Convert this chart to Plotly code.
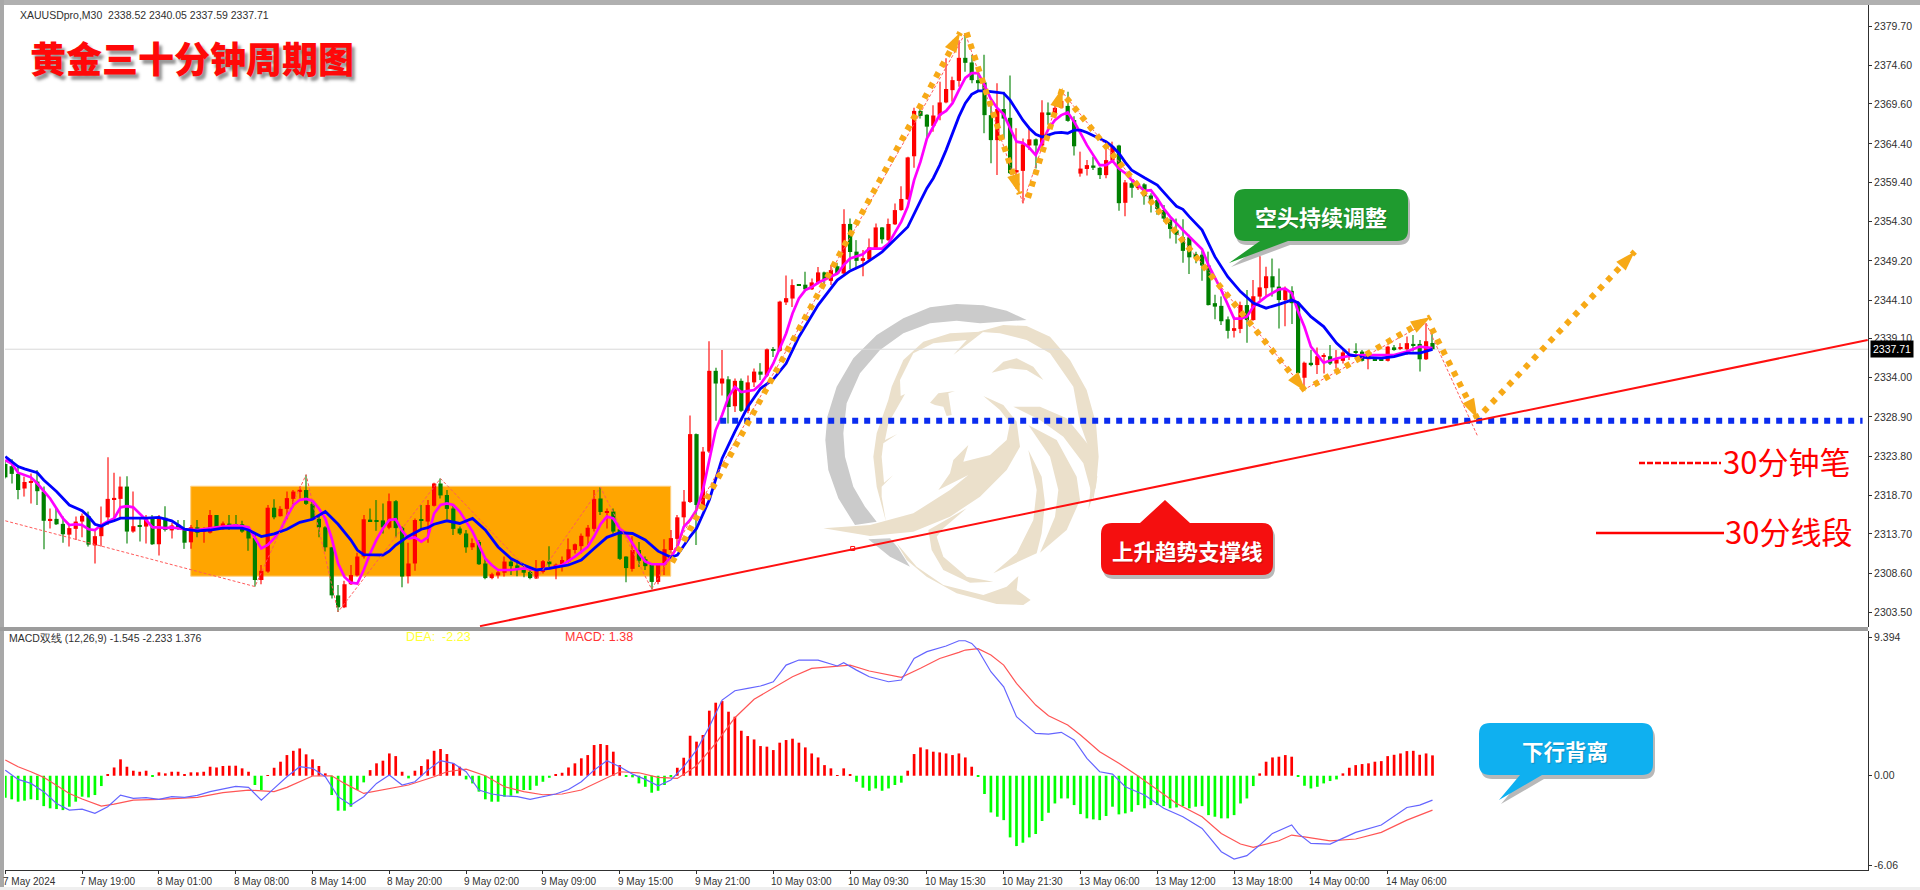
import math
import plotly.graph_objects as go

# ---------- candles ----------
OPEN = [2322.8,2322.5,2321.5,2319.6,2320.4,2320.5,2319.2,2315.4,2315.65,2315,
2313.6,2314.35,2315.3,2316,2312.2,2313.4,2315.85,2318.2,2318.25,2319.85,
2314,2314.65,2314.65,2315.7,2312.35,2315.8,2314.15,2314.9,2314.4,2312.6,
2314.55,2314,2313.85,2316.15,2314.3,2314.95,2314.9,2314.95,2314.1,2313.15,
2307.7,2308.8,2317.1,2316,2316.95,2318.25,2319.25,2319.4,2317.6,2315.65,
2314.55,2311.95,2305.7,2304.15,2307.15,2308.3,2310.75,2315.55,2315.45,2315.45,
2314.5,2317.95,2314.5,2308.2,2309.85,2315.6,2315.3,2317.35,2320.25,2318.75,
2317,2314.4,2313.75,2311.95,2312.65,2309.85,2307.95,2308.3,2308.65,2310.1,
2309.6,2309.15,2308.75,2307.9,2308.75,2310.1,2309.35,2309.65,2310.1,2311.6,
2312.1,2313.35,2314.35,2318.3,2316.45,2316.6,2314.3,2310.75,2309.15,2311.6,
2310.4,2309.7,2307.45,2309.7,2311.6,2313.05,2315.85,2317.84,2326.67,2317.3,
2324.4,2334.9,2333.25,2333.8,2330.3,2333.6,2329.7,2333.4,2334.8,2334.3,
2337.6,2337.5,2343.8,2344.3,2346.1,2346.1,2345.5,2346.35,2347.7,2346.6,
2348.5,2347.55,2354,2350.4,2349.2,2349.4,2350.75,2353.55,2351.9,2353.95,
2355.8,2357.2,2362.8,2368.7,2368.2,2366.75,2368.1,2369.8,2371.4,2372.6,
2375.6,2375,2372.7,2372.4,2368.15,2364.9,2368.95,2367.8,2360.7,2360.9,
2364.2,2365,2364.2,2368.5,2368.4,2369.1,2369.35,2367.5,2360.55,2361.15,
2361.6,2361.3,2360.35,2362.25,2364.2,2356.75,2359.3,2358.65,2359.15,2357.7,
2357.1,2355.8,2354.5,2353.2,2352.26,2352.26,2350.1,2350,2348.6,2343.7,
2343.35,2341.6,2340.1,2340.35,2343.45,2341.5,2344.55,2345.65,2347.2,2345.85,
2344.1,2345.3,2343.75,2334,2335.95,2335.65,2336.75,2336.8,2335.85,2336.2,
2336.85,2337.45,2337.4,2336.4,2336.4,2336.4,2336.2,2337.95,2337.8,2337.7,
2338.4,2338.4,2336.4,2338.52]
HIGH = [2323.3,2323.4,2322.65,2321.15,2321.55,2322,2319.85,2317,2317,2315.95,
2314.85,2315.95,2316.35,2316.6,2314.2,2317.25,2323.65,2321.65,2321.15,2321.2,
2319.2,2315.7,2316.15,2316.15,2316.15,2317.3,2315.15,2315.5,2315.5,2314.85,
2315.5,2314.55,2316.8,2316.15,2315.3,2316.15,2316.15,2315.4,2314.4,2313.55,
2309.65,2317.45,2318.2,2317.3,2319.2,2319.4,2319.85,2321.4,2317.9,2316.15,
2314.7,2312,2307.05,2307.6,2309.65,2311.25,2316.15,2317,2318.1,2317.65,
2318.95,2318.1,2314.65,2312.55,2315.7,2317.45,2318.1,2320.35,2320.9,2319.4,
2317.45,2314.65,2314.2,2313.1,2312.9,2310.75,2308.65,2309,2310.75,2310.3,
2310.3,2309.65,2309,2310.3,2310.3,2312.1,2309.85,2310.75,2313.1,2312.45,
2313.75,2314.85,2319.4,2319.75,2317,2317,2314.4,2310.8,2313.4,2312.65,
2310.75,2309.85,2309.85,2313,2314.2,2316.15,2319.4,2329.1,2326.75,2325,
2338.76,2335.3,2337.6,2334.2,2333.9,2333.9,2334.3,2335.2,2335.9,2337.8,
2338,2344,2347.3,2346.8,2346.1,2347.8,2346.9,2348.4,2347.8,2348.65,
2348.95,2355.9,2354.7,2351.9,2350.6,2352.1,2354.05,2353.6,2354.7,2356.65,
2358.9,2362.75,2369.1,2369.5,2368.25,2369.45,2372.5,2375.55,2373.15,2377.9,
2378.8,2376,2374.2,2376,2369.45,2372.3,2371.2,2373.3,2366.45,2365.1,
2366.45,2365.1,2370.1,2369.8,2370.1,2371.4,2371.2,2368,2363.4,2362.3,
2362.75,2361.45,2364.7,2364.7,2364.3,2359.7,2359.85,2359.5,2359.3,2358,
2357.3,2356.45,2354.7,2354.7,2354.6,2352.6,2350.4,2350.5,2350.4,2344.8,
2344.55,2341.95,2341.95,2343.9,2345.4,2346.7,2349.8,2348.45,2349.5,2348.2,
2345.85,2345.9,2343.9,2336.1,2337.6,2337.95,2337.2,2338.25,2337.6,2337.8,
2337.8,2338.5,2337.6,2337.4,2336.4,2336.4,2338.15,2338.25,2338.5,2339.35,
2339.55,2338.9,2341.1,2340.05]
LOW = [2320.9,2320.25,2318.2,2318.55,2317.65,2317.45,2311.7,2314.4,2314.85,2312.55,
2312.05,2312.9,2313.25,2312.05,2309.85,2312.05,2314.85,2315.5,2315.7,2312.45,
2313.85,2312.7,2312.45,2312.25,2310.9,2314,2313.1,2314.2,2311.75,2311.75,
2313.25,2312.55,2313.75,2314.2,2314.2,2314.2,2314.4,2313.85,2311.5,2306.85,
2307.15,2308.65,2315.6,2315.95,2315.6,2317.15,2318.3,2317.45,2315.5,2313.25,
2311.4,2305.3,2303.55,2304.05,2307.05,2308.15,2310.5,2315.3,2314.1,2313.75,
2314.3,2313.25,2306.75,2307.25,2308.9,2314.2,2312.55,2317.25,2318.3,2315.6,
2313.55,2313.55,2311.25,2311.6,2309.65,2307.8,2307.8,2307.9,2308.15,2308.35,
2308.2,2308.05,2307.8,2307.85,2308.55,2309.4,2307.8,2308.8,2309.85,2311.15,
2311.15,2312.25,2314,2316.15,2314.4,2313.75,2310.3,2307.4,2308.8,2309.4,
2309,2306.5,2307.15,2308.35,2311.15,2311.6,2314.65,2317.7,2312.25,2317.2,
2324.2,2328.4,2331.7,2328.05,2329.55,2329.55,2329.4,2332.8,2333.7,2334.1,
2336.7,2337.4,2343.45,2343.2,2346,2345.3,2345.4,2346.15,2345.8,2346.05,
2347.45,2347.45,2348.1,2348.2,2347.2,2349.3,2350.6,2351.45,2351.8,2353.85,
2355.7,2357.1,2361.3,2367.7,2364.9,2366,2367.5,2369.7,2369.9,2371.85,
2373.8,2372.3,2371.4,2365.8,2361.9,2360.35,2365.1,2360.5,2358.6,2356.7,
2363.6,2361.2,2364.05,2366.9,2367.75,2369,2367.3,2362.9,2360.15,2360.3,
2361,2359.85,2359.95,2362.1,2355.7,2355,2357.4,2358.4,2356.5,2355.5,
2355.2,2354.3,2352.1,2351.45,2348.97,2347.5,2348.9,2346.6,2343.4,2341.6,
2340.85,2339.1,2339.25,2339.8,2338.55,2341.4,2344.1,2344.55,2344.55,2340.4,
2340.7,2341,2334.35,2332.5,2335.5,2334.5,2334.55,2335.65,2335.2,2335.85,
2336.3,2336.75,2336.1,2335.1,2336.3,2336.3,2336.1,2337.5,2337.6,2336.95,
2337.4,2334.8,2336.3,2337.59]
CLOSE = [2321.05,2321.5,2319.4,2320.45,2320.55,2319.25,2315.4,2315.65,2314.95,2313.65,
2314.45,2315.3,2316.05,2312.3,2313.4,2314.75,2318.25,2318.35,2319.85,2314,
2314.7,2314.6,2315.6,2312.35,2315.8,2314.2,2314.8,2314.35,2312.55,2314.55,
2313.85,2314.2,2316.15,2314.4,2315.05,2314.85,2314.8,2314,2313.1,2307.7,
2308.9,2317.1,2315.85,2316.95,2318.35,2319.2,2319.4,2317.6,2315.65,2314.55,
2311.95,2305.7,2304.15,2307.15,2308.35,2310.75,2315.6,2315.35,2315.3,2314.55,
2317.95,2314.45,2308.15,2309.85,2315.5,2315.4,2317.45,2320.25,2318.7,2316.95,
2314.35,2313.75,2311.95,2312.5,2309.75,2307.95,2308.45,2308.7,2310.1,2309.5,
2309.05,2308.65,2307.95,2309.05,2310.15,2309.75,2309.7,2310.3,2311.7,2312.35,
2313.45,2314.5,2318.25,2316.55,2316.65,2314,2310.45,2309.25,2311.6,2310.2,
2309.5,2307.45,2309.7,2311.7,2313.15,2315.85,2317.9,2326.67,2317.45,2324.4,
2334.9,2333.25,2333.9,2330.2,2333.6,2329.7,2333.4,2334.8,2334.4,2337.7,
2337.55,2343.9,2344.35,2346.05,2346.0,2345.5,2346.4,2347.7,2346.7,2348,
2347.55,2354,2350.35,2349.2,2349.55,2350.95,2353.55,2352,2354,2355.8,
2357.25,2362.65,2368.7,2368.05,2366.65,2368.1,2369.8,2371.55,2372.7,2375.6,
2374.95,2372.7,2372.3,2368.15,2364.9,2368.95,2367.7,2360.6,2361,2364.35,
2365,2364.2,2368.5,2368.25,2369.1,2370,2367.4,2364.1,2361.2,2361.65,
2361.3,2360.35,2362.3,2364.05,2356.7,2359.4,2358.7,2359.2,2357.6,2356.7,
2355.95,2354.7,2353.35,2352.6,2350.5,2349.66,2349.6,2348.6,2343.45,2343.25,
2341.35,2340.1,2340.45,2343.45,2341.5,2344.6,2345.75,2347.2,2345.75,2344.1,
2345.5,2343.7,2334.6,2335.95,2335.65,2336.8,2336.9,2335.85,2336.4,2337.3,
2336.95,2337.3,2336.2,2337.2,2336.3,2336.3,2338.05,2337.6,2337.95,2338.5,
2338.2,2336.4,2338.75,2337.71]

# ---------- moving averages ----------
SLOW_BARS = [0,1,2,3,5,6,8,10,12,13,14,15,16,17,18,20,22,24,26,28,30,32,34,37,38,40,42,44,46,48,50,52,54,55,
56,59,60,61,63,65,66,67,69,71,73,75,77,79,81,83,85,88,90,92,94,96,98,100,102,104,105,107,108,110,
112,114,116,118,120,122,124,127,130,132,134,137,141,143,144,145,146,147,148,149,150,151,152,153,155,156,157,158,159,160,161,162,163,164,165,166,167,168,169,171,172,173,174,175,176,178,180,182,183,
184,185,187,188,189,191,193,195,197,199,201,202,204,206,208,210,212,215,217,219,221,223]
SLOW = [2323.75,2323.1,2322.45,2322.15,2321.65,2320.7,2319.2,2317.45,2316.7,2315.95,2314.95,2314.7,2315.15,2315.4,2315.75,2315.75,2315.75,2315.85,2315.4,2314.3,2314.1,2314.2,2314.45,2314.45,2314.2,2313.35,2313.7,2314.3,2315.2,2315.6,2316.6,2314.95,2312.9,2311.6,
2311,2310.95,2311.45,2312.25,2313.4,2314.3,2314.5,2314.95,2315.4,2315.05,2315.7,2314.2,2312,2310.5,2309.65,2309,2309.2,2309.65,2310.3,2311.8,2313.25,2313.85,2313.75,2312.9,2311.45,2310.65,2310.95,2313.35,2314.4,2318.1,
2323.5,2327,2330.2,2332.6,2333.8,2335.85,2339.3,2343.45,2346.7,2347.9,2348.65,2350.35,2353.6,2357,2358.65,2359.95,2361.65,2363.6,2365.8,2367.95,2369.7,2370.85,2371.3,2371.3,2371.1,2371,2370.1,2368.8,2367.5,2366.45,2365.65,2365.3,2365.55,2365.85,2365.9,2365.8,2366.2,2366.2,2365.9,2365.15,2364.7,2364.05,2363.2,2362,2361,2360,2359.05,2357.2,2356.3,
2355.9,2354.95,2353.2,2351.55,2349.75,2347.15,2345.2,2343.7,2343.05,2343.55,2344.1,2343.75,2341.95,2340.65,2338.5,2337,2336.65,2336.55,2336.75,2337.2,2337.2,2337.7]
FAST_BARS = [0,1,2,3,4,5,6,7,8,9,10,11,12,13,14,15,16,17,18,19,20,21,22,23,24,25,26,28,30,33,34,36,38,39,40,41,42,43,44,45,46,47,48,49,50,51,52,53,54,55,
56,57,58,59,60,61,62,63,64,65,66,67,68,69,70,71,72,73,74,75,76,77,79,81,83,85,87,89,91,92,93,94,95,96,97,98,99,100,101,103,104,105,106,107,108,109,
110,111,112,113,114,115,117,118,119,120,121,122,123,124,125,126,127,130,131,132,134,135,137,138,140,141,142,
143,144,145,146,147,148,149,150,151,152,153,154,155,156,157,158,159,160,161,162,163,164,165,166,167,168,169,170,171,172,173,174,175,176,177,178,179,180,181,182,
184,187,188,190,192,193,194,195,197,199,200,201,202,203,204,206,208,210,212,214,217,219,221,223]
FAST = [2323.3,2322.85,2321.65,2321.3,2321.05,2320.25,2319.2,2318.3,2317,2315.7,2314.85,2314.95,2314.85,2314.3,2314.2,2314.85,2315.3,2315.7,2317.15,2317.3,2317.15,2316.35,2315.5,2314.55,2314.55,2314.45,2314.55,2314.3,2314.2,2314.55,2314.65,2314.8,2314.55,2313.25,2311.8,2312.25,2313.1,2314.2,2315.95,2317.45,2318.1,2318.25,2318,2317,2315.7,2313.1,2309.85,2308.1,2307.35,2307.25,
2309,2311.15,2312.95,2314.4,2315.5,2315.6,2314.1,2313.1,2313.25,2312.7,2313.25,2316.35,2317.45,2317.65,2317.45,2316.6,2315.3,2314,2312.25,2310.5,2309.65,2309,2309,2309.2,2309,2309.2,2309.65,2310.75,2312,2313.35,2314.95,2315.95,2315.7,2314.4,2313.75,2312.45,2311.15,2310.1,2309.75,2309.75,2310.7,2312,2314.6,2315.5,2316.8,2319.4,
2323.5,2327.2,2329.15,2331.5,2332.8,2332.15,2332.4,2333.15,2334.35,2335.85,2337.8,2339.75,2342.35,2344.3,2345.4,2345.8,2346.35,2347.55,2348.65,2349.5,2350.05,2350.8,2350.8,2351.45,2354.3,2356.25,2359.7,
2362.1,2365.1,2366.65,2368.2,2368.7,2369.7,2371.4,2373,2373.6,2373.6,2372.05,2370.25,2369.05,2368.25,2366.45,2364.7,2364.55,2363.9,2362.95,2364.7,2366.35,2367.5,2368.15,2368.5,2367.3,2365.8,2364.25,2362.95,2361.65,2361.65,2362.2,2361.2,2360.6,2359.7,2359.05,2358.3,2358.4,2357.3,2356,2354.95,
2353.2,2350.7,2348.65,2345.4,2341.7,2341.7,2341.95,2343.25,2344.55,2345.5,2345.6,2345,2342.6,2340.6,2338.05,2335.95,2336.5,2336.85,2336.95,2336.95,2336.95,2337.4,2338.05,2337.85]

# ---------- MACD panel ----------
HIST = [-1.49,-1.60,-1.76,-1.69,-1.60,-1.65,-2.06,-2.21,-2.26,-2.33,-2.10,-1.76,-1.42,-1.47,-1.31,-0.70,0.05,0.56,1.11,0.61,
0.34,0.27,0.34,-0.07,0.23,0.16,0.27,0.27,0.07,0.23,0.23,0.27,0.61,0.56,0.66,0.68,0.68,0.50,0.27,-0.63,
-0.97,0.02,0.54,0.95,1.40,1.69,1.85,1.45,1.11,0.66,0.16,-1.31,-2.37,-2.37,-2.10,-0.97,-0.45,0.38,0.84,1.02,
1.51,1.33,0.27,-0.18,0.34,0.66,1.11,1.69,1.81,1.47,0.84,0.61,-0.25,-0.52,-1.08,-1.60,-1.76,-1.76,-1.42,-1.36,
-1.20,-0.97,-0.97,-0.68,-0.41,-0.14,0.11,0.20,0.56,0.84,1.18,1.40,2.08,2.15,2.08,1.63,0.72,-0.07,-0.11,-0.52,
-0.75,-1.15,-1.02,-0.63,-0.07,0.54,1.22,2.71,2.31,2.76,4.41,4.95,5.06,4.34,4.00,3.05,2.69,2.46,2.01,1.97,
1.74,2.24,2.42,2.51,2.24,1.92,1.51,1.24,0.72,0.50,0.02,0.50,0.11,-0.41,-0.81,-1.02,-0.86,-1.02,-0.86,-0.63,
-0.47,0.34,1.47,1.92,1.79,1.63,1.58,1.51,1.40,1.51,1.24,0.61,-0.02,-1.24,-2.49,-2.78,-3.01,-4.18,-4.77,-4.54,
-4.18,-3.95,-3.07,-2.51,-1.88,-1.54,-1.54,-1.99,-2.60,-2.89,-2.96,-3.01,-2.73,-2.10,-2.62,-2.55,-2.44,-1.99,-2.21,-1.99,
-1.99,-2.06,-2.21,-2.15,-2.06,-2.21,-2.10,-2.06,-2.67,-2.78,-2.89,-2.89,-2.67,-1.88,-1.54,-0.70,0.16,0.95,1.24,1.29,
1.40,1.29,-0.02,-0.68,-0.86,-0.75,-0.52,-0.36,-0.25,0.16,0.54,0.72,0.79,0.84,0.95,0.99,1.33,1.42,1.51,1.67,
1.69,1.42,1.51,1.38]
MACD_BARS = [0,2,4,6,8,10,12,14,16,18,20,22,24,26,28,30,32,34,36,38,40,42,44,46,48,50,52,54,56,58,60,62,64,66,68,70,72,74,76,78,80,82,84,86,88,90,92,94,96,98,100,102,104,106,108,110,112,114,116,118,120,122,124,127,130,131,133,135,138,140,142,144,147,149,
150,151,152,154,156,158,161,163,165,167,169,171,173,175,178,181,184,187,190,192,194,196,198,201,202,204,207,209,211,215,219,221,223]
MACD = [0.38,-0.25,-0.52,-1.08,-1.88,-2.33,-2.26,-2.55,-2.10,-1.31,-1.54,-1.49,-1.60,-1.42,-1.47,-1.33,-1.08,-0.90,-0.72,-0.79,-1.65,-0.86,-0.07,0.61,0.50,-0.07,-1.42,-1.99,-1.42,-0.52,0.05,-0.63,-0.41,0.38,1.02,0.84,0.27,-0.97,-1.24,-1.36,-1.42,-1.60,-1.42,-1.24,-0.93,-0.41,0.38,1.02,0.61,0.11,-0.25,-0.68,-0.29,0.61,1.74,3.32,5.13,5.76,5.92,6.08,6.37,7.50,7.84,7.84,7.44,7.66,7.16,6.71,6.37,6.49,7.95,8.41,8.79,9.15,
9.15,8.97,8.52,7.05,6.03,4.0,2.87,2.82,2.94,2.42,1.18,0.27,0.11,-0.75,-1.31,-2.21,-2.78,-3.57,-5.15,-5.65,-5.42,-4.70,-3.91,-3.34,-3.91,-4.59,-4.63,-4.25,-3.84,-3.34,-2.15,-1.99,-1.65]
DEA_BARS = [0,2,4,6,10,12,15,17,20,24,30,34,38,42,44,48,51,53,56,60,63,67,69,72,75,78,81,84,87,90,93,96,99,102,105,108,111,114,117,120,123,126,129,132,135,138,140,143,146,149,
150,152,154,156,158,161,163,166,168,171,174,177,180,183,187,190,193,195,199,201,203,207,211,215,219,223]
DEA = [1.06,0.61,0.27,-0.11,-1.20,-1.58,-2.06,-1.92,-1.65,-1.60,-1.47,-1.15,-0.97,-1.08,-0.79,-0.02,0,-0.52,-1.20,-0.86,-0.63,-0.07,0.27,0.45,0,-0.75,-1.08,-1.29,-1.24,-0.97,-0.34,0.27,0.2,-0.11,-0.18,0.68,2.19,3.93,5.18,5.92,6.71,7.28,7.37,7.50,7.10,6.82,6.67,7.28,7.95,8.36,
8.52,8.61,8.18,7.50,6.26,4.79,4.07,3.44,2.76,1.63,0.84,-0.02,-0.97,-1.88,-2.78,-3.91,-4.63,-4.86,-4.41,-4.02,-4.14,-4.41,-4.29,-3.84,-3.01,-2.33]

# ---------- axis labels ----------
PRICE_TICKS = [2379.70,2374.60,2369.60,2364.40,2359.40,2354.30,2349.20,2344.10,2339.10,2334.00,2328.90,2323.80,2318.70,2313.70,2308.60,2303.50]
TIME_LABELS = ["7 May 2024","7 May 19:00","8 May 01:00","8 May 08:00","8 May 14:00","8 May 20:00","9 May 02:00",
"9 May 09:00","9 May 15:00","9 May 21:00","10 May 03:00","10 May 09:30","10 May 15:30","10 May 21:30",
"13 May 06:00","13 May 12:00","13 May 18:00","14 May 00:00","14 May 06:00"]
TIME_TICKS = [12*k for k in range(len(TIME_LABELS))]
MACD_TICKS = [9.394, 0, -6.06]
MACD_TEXT = ["9.394", "0.00", "-6.06"]

# ---------- drawn objects on the chart ----------
ZIGZAG_BARS = [0,39,47,52,68,83,93,101,150,159,165,203,222,230]
ZIGZAG_PRICE = [2315.4,2306.85,2321.4,2303.55,2320.9,2307.85,2319.75,2306.5,2378.8,2356.7,2371.3,2332.5,2341.1,2326.5]
ARROWS = [  # start bar, start price, tip bar, tip price
    (104.2,2310.0,149.2,2378.9),
    (150.2,2378.9,158.5,2357.9),
    (159.8,2357.4,165.2,2371.7),
    (165.8,2370.4,203.2,2332.2),
    (204.5,2333.1,222.7,2341.9),
    (222.9,2340.4,230.0,2328.7),
    (231.0,2329.6,254.6,2350.4),
]
TREND = [(74.17,2301.7),(291.0,2338.9)]
SUPPORT_START, SUPPORT_END, SUPPORT_PRICE = 111.7, 290.2, 2328.4
LAST_PRICE = 2337.71

W, H = 1920, 890
PXBAR, PXPRICE = 6.4, 7.69
def fx(x): return x / W
def fy(y): return 1 - y / H

assert all(len(a) == 224 for a in (OPEN, HIGH, LOW, CLOSE, HIST))
assert len(SLOW) == len(SLOW_BARS) and len(FAST) == len(FAST_BARS)
assert len(MACD) == len(MACD_BARS) and len(DEA) == len(DEA_BARS)

BARS = list(range(224))
cand_col = ["#FF0000" if c >= o else "#008000" for o, c in zip(OPEN, CLOSE)]
fig = go.Figure()
fig.add_trace(go.Bar(x=BARS, base=LOW, y=[h - l for h, l in zip(HIGH, LOW)], width=0.17,
                     marker=dict(color=cand_col, line_width=0), opacity=0.55, hoverinfo="skip"))
fig.add_trace(go.Bar(x=BARS, base=[min(o, c) for o, c in zip(OPEN, CLOSE)],
                     y=[max(abs(o - c), 0.18) for o, c in zip(OPEN, CLOSE)], width=0.66,
                     marker=dict(color=cand_col, line_width=0), hoverinfo="skip"))
fig.add_trace(go.Scatter(x=FAST_BARS, y=FAST, mode="lines", line=dict(color="#FF00FF", width=2.7), hoverinfo="skip"))
fig.add_trace(go.Scatter(x=SLOW_BARS, y=SLOW, mode="lines", line=dict(color="#0000FF", width=2.8), hoverinfo="skip"))
fig.add_trace(go.Scatter(x=ZIGZAG_BARS, y=ZIGZAG_PRICE, mode="lines",
                         line=dict(color="#FF5A5A", width=1, dash="3px,2px"), hoverinfo="skip"))
fig.add_trace(go.Scatter(x=[SUPPORT_START, SUPPORT_END], y=[SUPPORT_PRICE]*2, mode="lines",
                         line=dict(color="#0A2CF0", width=6, dash="6px,6px"), hoverinfo="skip"))
fig.add_trace(go.Scatter(x=[t[0] for t in TREND], y=[t[1] for t in TREND], mode="lines",
                         line=dict(color="#FF1010", width=2), hoverinfo="skip"))
fig.add_trace(go.Scatter(x=[132.4], y=[2311.8], mode="markers",
                         marker=dict(symbol="square-open", size=4, color="#FF1010", line_width=1), hoverinfo="skip"))
for x0, y0, x1, y1 in ARROWS:
    fig.add_trace(go.Scatter(x=[x0, x1], y=[y0, y1], mode="lines",
                             line=dict(color="#F7A916", width=6, dash="5.5px,6.5px"), hoverinfo="skip"))
    ang = math.degrees(math.atan2((x1 - x0) * PXBAR, (y1 - y0) * PXPRICE))
    fig.add_trace(go.Scatter(x=[x1], y=[y1], mode="markers",
                             marker=dict(symbol="arrow", size=21, angle=ang, color="#F7A916", line_width=0),
                             hoverinfo="skip"))
fig.add_trace(go.Bar(x=BARS, y=HIST, width=0.42, xaxis="x2", yaxis="y2", hoverinfo="skip",
                     marker=dict(color=["#FF0000" if v >= 0 else "#00FF00" for v in HIST], line_width=0)))
fig.add_trace(go.Scatter(x=DEA_BARS, y=DEA, mode="lines", xaxis="x2", yaxis="y2",
                         line=dict(color="#FF5555", width=1.2), hoverinfo="skip"))
fig.add_trace(go.Scatter(x=MACD_BARS, y=MACD, mode="lines", xaxis="x2", yaxis="y2",
                         line=dict(color="#6464FF", width=1.2), hoverinfo="skip"))

shapes = []
def poly(points, color, zoom=None, layer="below", opacity=1):
    pts = [(810 + a / 3, 290 + b / 3) for a, b in points] if zoom else points
    path = "M" + " L".join(f"{fx(a):.5f},{fy(b):.5f}" for a, b in pts) + " Z"
    shapes.append(dict(type="path", xref="paper", yref="paper", path=path, fillcolor=color,
                       line_width=0, layer=layer, opacity=opacity))

GREY, TAN = "#CBCBCB", "#EBE0CB"
LOGO_GREY = [
 [(650,90),(590,62),(520,46),(440,42),(360,52),(280,85),(200,135),(130,205),(80,290),(52,380),(46,450),(55,540),(85,625),(135,705),(200,695),(165,650),(130,590),(105,500),(100,430),(110,340),(150,250),(210,180),(280,130),(360,100),(440,92),(510,100)],
 [(175,748),(240,745),(265,775),(300,830),(240,800)],
]
LOGO_TAN = [
 [(505,125),(580,105),(650,108),(720,140),(780,210),(830,300),(858,400),(866,500),(858,590),(835,660),(845,560),(835,470),(810,400),(790,290),(720,190),(650,150),(570,130)],
 [(610,350),(690,350),(770,385),(840,470),(862,560),(850,630),(820,520),(760,440),(690,390)],
 [(655,405),(740,450),(800,560),(810,630),(770,720),(690,788),(735,680),(745,600),(720,500)],
 [(655,480),(695,560),(705,640),(695,730),(680,790),(550,850),(620,790),(670,690),(680,600)],
 [(510,125),(420,130),(340,155),(280,210),(245,290),(235,330),(200,430),(190,500),(200,590),(228,695),(215,620),(215,590),(250,555),(222,578),(215,500),(220,460),(262,432),(225,450),(235,400),(285,312),(272,318),(270,270),(310,190),(370,160),(470,150),(430,195),(520,125)],
 [(545,248),(580,215),(620,205),(670,230),(700,270),(650,240),(600,235)],
 [(360,338),(385,310),(435,303),(415,310),(425,375),(410,378),(400,350),(375,345)],
 [(520,318),(580,345),(620,395),(630,470),(590,540),(510,620),(420,680),(310,725),(180,738),(40,715),(180,705),(310,670),(420,600),(475,555),(385,600),(420,550),(430,510),(475,465),(460,515),(540,495),(590,450),(600,400),(570,360)],
 [(355,720),(470,655),(400,715),(380,740),(400,800),(470,860),(550,875),(480,878),(400,840),(365,780)],
 [(260,760),(320,830),(400,885),(520,915),(590,890),(625,858),(620,900),(662,930),(640,945),(560,942),(440,910),(350,860),(290,810)],
]
for p in LOGO_GREY: poly(p, GREY, zoom=True)
for p in LOGO_TAN: poly(p, TAN, zoom=True)

# orange range box (prices/bars)
shapes.append(dict(type="rect", xref="x", yref="y", x0=28.97, x1=103.97, y0=2308.2, y1=2319.9,
                   fillcolor="#FFA500", line=dict(color="#FFD080", width=1), layer="below"))
# last price line
shapes.append(dict(type="line", xref="x", yref="y", x0=-0.05, x1=291.05, y0=LAST_PRICE, y1=LAST_PRICE,
                   line=dict(color="#D8D8D8", width=1), layer="below"))

# window frame
for x0, y0, x1, y1, c in [(0,0,W,5,"#B0B0B0"),(0,0,4,H,"#A8A8A8"),(0,627,1868,631,"#9C9C9C"),(0,887,W,H,"#EFEFEF")]:
    shapes.append(dict(type="rect", xref="paper", yref="paper", x0=fx(x0), x1=fx(x1), y0=fy(y1), y1=fy(y0),
                       fillcolor=c, line_width=0, layer="above"))

def rounded(x0, y0, x1, y1, r, tail, color, dx=0, dy=0):
    """tail: (base-left-x, base-right-x, tip-x, tip-y, side)"""
    bl, br, tx, ty, side = tail
    x0, x1, bl, br, tx = x0+dx, x1+dx, bl+dx, br+dx, tx+dx
    y0, y1, ty = y0+dy, y1+dy, ty+dy
    P = lambda a, b: f"{fx(a):.5f},{fy(b):.5f}"
    s = f"M{P(x0+r,y0)} "
    if side == "top":
        s += f"L{P(bl,y0)} L{P(tx,ty)} L{P(br,y0)} "
    s += f"L{P(x1-r,y0)} Q{P(x1,y0)} {P(x1,y0+r)} L{P(x1,y1-r)} Q{P(x1,y1)} {P(x1-r,y1)} "
    if side == "bottom":
        s += f"L{P(br,y1)} L{P(tx,ty)} L{P(bl,y1)} "
    s += f"L{P(x0+r,y1)} Q{P(x0,y1)} {P(x0,y1-r)} L{P(x0,y0+r)} Q{P(x0,y0)} {P(x0+r,y0)} Z"
    shapes.append(dict(type="path", xref="paper", yref="paper", path=s, fillcolor=color, line_width=0, layer="above"))

CALLOUTS = [
    ((1234,189,1408,241,11,(1260,1288,1229,263,"bottom")), "#1F9B2F", "空头持续调整", 1321, 216, 22),
    ((1101,523,1273,575,11,(1140,1190,1165,500,"top")), "#F50F0F", "上升趋势支撑线", 1187, 550, 21.5),
    ((1479,723,1653,775,11,(1520,1542,1499,800,"bottom")), "#0FB0F0", "下行背离", 1565, 750, 21.5),
]
for geom, col, _, _, _, _ in CALLOUTS:
    rounded(*geom, "rgba(0,0,0,0.28)", dx=2, dy=4)
    rounded(*geom, col)

# legend lines on the right
shapes.append(dict(type="line", xref="paper", yref="paper", x0=fx(1639), x1=fx(1721), y0=fy(463), y1=fy(463),
                   line=dict(color="#FF0000", width=2.5, dash="6px,2px"), layer="above"))
shapes.append(dict(type="line", xref="paper", yref="paper", x0=fx(1596), x1=fx(1724), y0=fy(533), y1=fy(533),
                   line=dict(color="#FF0000", width=2.5), layer="above"))

CJK = "Noto Sans CJK SC"
LAT = "Liberation Sans"
ann = []
def text(x, y, s, size, color, family=LAT, anchor="center", weight=None, shadow=None):
    font = dict(size=size, color=color, family=family)
    if weight: font["weight"] = weight
    if shadow: font["shadow"] = shadow
    ann.append(dict(xref="paper", yref="paper", x=fx(x), y=fy(y), text=s, showarrow=False, xanchor=anchor,
                    yanchor="middle", font=font, borderpad=0))

text(191.5, 57, "黄金三十分钟周期图", 36, "#FF0808", CJK, weight=900, shadow="3px 4px 3px rgba(90,90,90,0.65)")
for _, _, s, cx, cy, size in CALLOUTS:
    text(cx, cy, s, size, "#FFFFFF", CJK, weight=700, shadow="1px 1px 1px rgba(0,0,0,0.2)")
text(1722, 460, "30分钟笔", 31, "#FF0000", CJK, "left")
text(1724, 530, "30分线段", 31, "#FF0000", CJK, "left")
text(19, 15, "XAUUSDpro,M30  2338.52 2340.05 2337.59 2337.71", 10.5, "#303030", LAT, "left")
text(8, 638, "MACD双线 (12,26,9) -1.545 -2.233 1.376", 10.5, "#303030", LAT, "left")
text(405, 637, "DEA:  -2.23", 12.5, "#FFFF33", LAT, "left")
text(564, 637, "MACD: 1.38", 12.5, "#FF3333", LAT, "left")
for tick, label in zip(TIME_TICKS, TIME_LABELS):
    ann.append(dict(xref="x2", yref="paper", x=tick, y=fy(881), text=label, showarrow=False, xanchor="left",
                    xshift=-3, yanchor="middle", font=dict(size=10, color="#303030", family=LAT), borderpad=0))
ann.append(dict(xref="paper", yref="y", x=fx(1870), y=LAST_PRICE, text="2337.71", showarrow=False, xanchor="left",
                yanchor="middle", bgcolor="#000000", font=dict(size=10.5, color="#FFFFFF", family=LAT), borderpad=2))

axfont = dict(size=10.5, color="#303030", family=LAT)
fig.update_layout(
    width=W, height=H, margin=dict(l=0, r=0, t=0, b=0), paper_bgcolor="#FFFFFF", plot_bgcolor="#FFFFFF",
    showlegend=False, barmode="overlay", shapes=shapes, annotations=ann,
    xaxis=dict(domain=[fx(5), fx(1868)], range=[-0.05, 291.05], anchor="y", showgrid=False, zeroline=False,
               showticklabels=False, ticks=""),
    yaxis=dict(domain=[fy(627), fy(5)], range=[2301.59, 2382.47], side="right", anchor="x", showgrid=False,
               zeroline=False, showline=True, linecolor="#303030", linewidth=1, mirror=False,
               tickmode="array", tickvals=PRICE_TICKS, ticktext=[f"{v:.2f}" for v in PRICE_TICKS],
               ticks="outside", ticklen=3, tickcolor="#303030", tickfont=axfont),
    xaxis2=dict(domain=[fx(5), fx(1868)], range=[-0.05, 291.05], anchor="y2", showgrid=False, zeroline=False,
                showline=True, linecolor="#303030", linewidth=1, tickmode="array", tickvals=TIME_TICKS,
                ticktext=[""] * len(TIME_TICKS), ticks="outside", ticklen=3, tickcolor="#303030"),
    yaxis2=dict(domain=[fy(870), fy(631)], range=[-6.39, 9.81], side="right", anchor="x2", showgrid=False,
                zeroline=False, showline=True, linecolor="#303030", linewidth=1, tickmode="array",
                tickvals=MACD_TICKS, ticktext=MACD_TEXT, ticks="outside", ticklen=3, tickcolor="#303030",
                tickfont=axfont),
)
fig.write_html("out.html", config={"displayModeBar": False},
               post_script="document.body.style.margin='0';document.body.style.overflow='hidden';")
